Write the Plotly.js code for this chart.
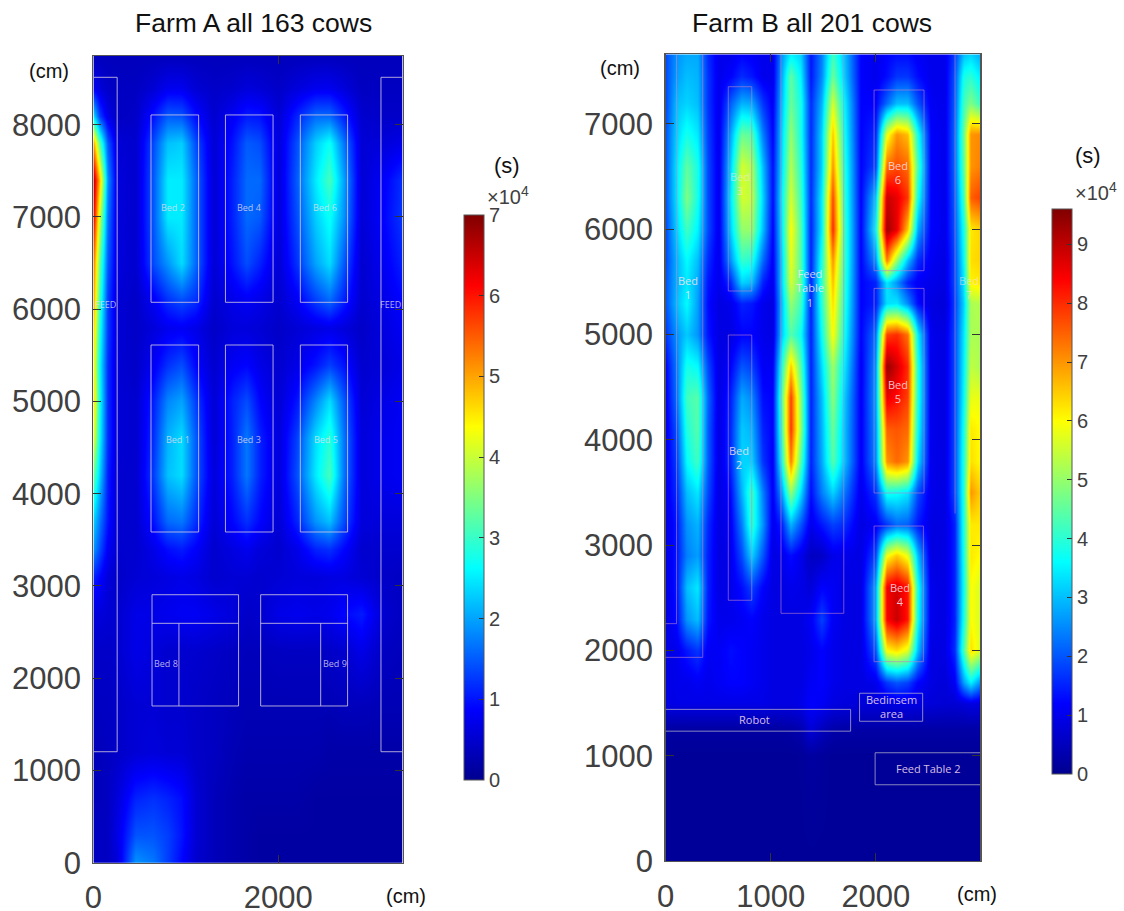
<!DOCTYPE html>
<html>
<head>
<meta charset="utf-8">
<script src="https://cdn.plot.ly/plotly-3.0.1.min.js"></script>
<style>body{margin:0;background:#fff}</style>
</head>
<body>
<div id="plotDiv" style="width:1124px;height:911px"></div>
<script>
// time spent, unit 10^4 s
var farmAx = [0,60,150,260,450,650,800,950,1100,1300,1500,1650,1800,2000,2200,2400,2550,2700,2900,3150,3345];
var farmAy = [0,300,700,1200,1700,2300,2700,3100,3400,3700,4200,4600,5000,5400,5800,6100,6500,7000,7400,7800,8100,8400,8745];
var farmAz = [
[.4,.4,.4,.6,1.9,1.7,1.3,.9,.5,.35,.25,.2,.15,.15,.15,.15,.15,.15,.15,.15,.15],
[.4,.4,.4,.7,1.45,1.45,1.3,1,.55,.35,.25,.2,.15,.15,.15,.15,.15,.15,.15,.15,.15],
[.35,.35,.4,.6,1.1,1.2,1.1,.95,.55,.35,.25,.2,.2,.2,.2,.15,.15,.15,.15,.15,.15],
[.35,.35,.4,.45,.55,.6,.55,.55,.45,.4,.3,.25,.25,.25,.25,.25,.2,.2,.2,.2,.2],
[.4,.4,.4,.45,.55,.55,.5,.5,.45,.4,.35,.3,.3,.3,.3,.3,.3,.35,.35,.3,.3],
[.45,.45,.45,.5,.7,.6,.5,.5,.5,.45,.4,.35,.35,.4,.4,.4,.45,.5,.7,.4,.35],
[.6,.6,.55,.5,.7,.7,.75,.8,.8,.7,.6,.45,.5,.7,.75,.7,.75,.9,1.05,.5,.4],
[1.1,.9,.6,.45,.55,.6,.65,.7,.65,.5,.55,.55,.5,.55,.6,.6,.65,.65,.55,.45,.4],
[1.9,1.4,.8,.5,.5,.7,.95,1.05,.85,.5,.65,.75,.6,.5,.7,1.1,1.2,.9,.5,.5,.5],
[2.3,1.7,1,.5,.5,1,1.6,1.7,1.2,.55,.9,1.2,.9,.55,1.1,1.9,2.2,1.4,.6,.6,.6],
[3.3,2.3,1.1,.5,.5,1.3,2.2,2.4,1.5,.6,1.1,1.7,1.1,.6,1.4,2.5,3.1,1.7,.6,.75,.8],
[4.2,2.6,1.2,.55,.5,1.2,2.1,2.4,1.5,.55,1.1,1.7,1.1,.6,1.3,2.4,2.9,1.7,.6,.75,.8],
[4.6,2.7,1.2,.55,.5,1.1,1.8,2,1.3,.55,1.1,1.4,.9,.55,1,1.8,2.4,1.5,.55,.7,.8],
[4.4,2.6,1.2,.55,.45,.8,1.2,1.4,.9,.5,.8,.9,.7,.5,.7,1,1.3,1,.5,.6,.7],
[4.7,2.8,1.3,.55,.45,.6,.75,.8,.7,.45,.6,.6,.55,.45,.55,.65,.7,.6,.45,.65,.8],
[5,3,1.3,.55,.45,.8,1.2,1.4,1.2,.5,.7,.8,.7,.5,.8,1.3,1.6,1.1,.5,.7,.9],
[5.3,3.3,1.5,.6,.5,1.4,1.9,2.4,1.6,.55,1,1.4,1.1,.55,1.2,2,2.4,1.5,.5,.8,1.1],
[6.2,4,1.7,.6,.5,1.5,2.5,2.5,1.6,.55,1.1,1.6,1.5,.6,1.4,2.3,2.7,1.9,.55,.9,1.25],
[6.6,4.8,1.9,.6,.5,1.5,2.5,2.5,1.6,.55,1.1,1.6,1.6,.6,1.5,2.5,3.1,2,.55,.85,1.2],
[5,3.2,1.5,.55,.5,1.4,2.2,2.3,1.4,.55,1,1.5,1.4,.6,1.4,2.3,2.7,1.7,.55,.6,.7],
[2.4,1.3,.7,.4,.45,1,1.5,1.45,.95,.5,.8,1.05,1,.55,1.1,1.6,1.6,1.1,.5,.45,.45],
[.8,.6,.45,.4,.4,.55,.75,.75,.55,.45,.5,.6,.55,.45,.6,.75,.75,.6,.4,.4,.4],
[.35,.35,.35,.35,.35,.35,.35,.35,.35,.35,.35,.35,.35,.35,.35,.35,.35,.35,.35,.35,.35]
];

var farmBx = [0,100,200,300,400,500,620,720,820,920,1020,1100,1190,1280,1380,1480,1590,1700,1850,2000,2100,2200,2300,2400,2520,2650,2750,2830,2900,2993];
var farmBy = [0,1000,1250,1500,1700,2000,2300,2600,2900,3200,3500,3800,4100,4400,4700,5000,5300,5500,5700,6000,6300,6600,6900,7200,7450,7661];
var farmBz = [
[.1,.1,.1,.1,.1,.1,.1,.1,.1,.1,.1,.1,.1,.1,.1,.1,.1,.1,.1,.1,.1,.1,.1,.1,.1,.1,.1,.1,.1,.1],
[.1,.1,.1,.1,.1,.1,.1,.1,.1,.1,.1,.1,.1,.12,.2,.15,.1,.1,.1,.1,.1,.1,.1,.1,.1,.1,.1,.1,.1,.1],
[.2,.2,.2,.2,.2,.2,.2,.2,.2,.2,.2,.2,.25,.35,.8,.5,.3,.25,.25,.25,.25,.25,.25,.25,.25,.25,.25,.25,.25,.25],
[.9,.95,.95,.95,.95,.95,.95,.95,.95,.95,.9,.9,.9,.95,1.2,1.1,.9,.85,.8,.8,.85,.9,.9,.85,.8,.75,.75,.8,.9,.8],
[.9,1,1,1.1,1,1.1,1.2,1.2,1.1,1,.9,.9,.9,.9,1.1,1.2,1,.9,.9,1,1.7,2,1.8,1.2,.9,.8,1.1,2.7,3.5,2.5],
[.9,1,1.4,1.7,1.1,1.1,1.3,1.2,1.1,1,.9,.9,.9,.9,1,1.2,1,.9,.9,2,6,6.3,5.7,3,.9,.9,1.6,4.3,6.3,5.6],
[.9,1.3,2.6,3,1.4,1,1,1.1,1.2,1,.9,.9,.9,.9,1.1,1.8,1.1,.9,.9,2.8,8.4,8.9,8.2,3.7,1,.9,1.5,3.8,6,5.6],
[.9,1.4,3,3.4,1.5,.9,1,1.3,1.8,1.2,.9,.9,1,.95,.8,1.2,1.1,.9,.9,2.8,8.5,8.8,8.2,3.8,1,.9,1.5,3.7,6,5.6],
[.9,1.4,2.4,2.7,1.5,.9,1,1.9,3.2,2,.9,1,1.3,1,.55,.6,1,1,.9,1.9,5.9,6.5,5.8,3,.9,.9,1.5,3.8,6.2,6],
[.9,1.4,2.6,2.9,1.6,.9,1.1,2.4,4.1,2.6,1,1.5,2.9,2,1,1.4,1.8,1.6,.9,1.1,1.7,2.2,2.1,1.4,.9,.9,1.5,3.9,6.2,6.2],
[1,1.6,3,3.4,1.9,.9,1.3,2.9,4.2,2.4,1.1,2.7,5,3.3,1.3,2.4,3.2,2.3,1,1.7,3.8,3.7,3.4,1.9,1,.9,1.9,3.9,7,6.4],
[1,1.8,3.6,4.2,2.1,.9,1.6,3.2,3.2,1.7,1.1,3.8,7.2,4.4,1.5,2.8,4.4,3,1.1,2.5,7,7.4,7,3.3,1,.9,1.9,3.9,6.3,6],
[1,2,3.9,4.4,2.1,.9,1.6,3.1,2.9,1.5,1.2,4.2,7.9,5,1.5,2.9,4.6,3,1.1,2.6,7.5,7.6,7.4,3.7,1,.9,1.9,3.8,6.2,6],
[1.1,2.3,4.2,4.4,2.2,.9,1.5,2.8,2.5,1.3,1.2,4.4,7.8,4.9,1.5,3,4.9,3.1,1.1,2.7,8.6,8.3,7.8,3.9,1,.9,1.9,3.6,5.8,5.8],
[1.2,2.4,3.8,3.6,1.9,.9,1.2,2,1.8,1.1,1.1,3.9,6.5,4.4,1.5,3.3,5.1,3.4,1.1,2.6,9.4,8.8,8,3.9,1,.9,1.9,3.5,5.4,5.2],
[1.7,2.6,3.1,2.6,1.4,.9,.9,1.2,1.2,1,.9,3.1,4.4,3.7,1.5,3.7,6,3.7,1.2,2.3,7.8,8,7.3,3.5,1,.9,1.9,3.4,5.2,5.2],
[2,3,3.6,2.7,1.3,.9,1,1.5,1.4,1,.9,3,5,4.2,1.5,4,6.3,3.9,1.2,1.5,3.3,3.4,2.5,1.3,.9,.8,1.8,3.2,5.2,5.3],
[2,2.9,3.4,2.8,1.4,1,1.6,3.2,3,1.5,1,3.2,5.6,4.5,1.5,4.1,6.6,4,1.2,1.5,3.4,2.6,1.5,1.1,1,.9,1.9,3.4,6.1,6.2],
[1.9,2.9,3.6,3,1.6,1,2.6,4.1,3.9,2.2,1.1,3.2,5.8,4.4,1.5,3.9,7,4.1,1.2,2.6,7.2,5,3,1.6,1.1,.9,1.9,3.6,6.3,6.4],
[1.9,3.2,4.2,3.5,1.9,1,3.2,5,5,3,1.2,3.4,6,4.4,1.5,3.5,8,4.1,1.2,3.6,9.3,8.6,6.5,2.8,1.2,1,2,3.8,6.2,6.4],
[2,3.4,4.8,3.8,1.9,1,3.4,5.6,5.4,3.2,1.3,3.5,5.6,4.2,1.6,3.5,7.7,4,1.2,3.1,8.9,8.6,7.9,3.8,1.2,1,2.1,4.2,7.5,7.8],
[2,3.4,4.5,3.8,1.9,1,3.2,5.6,5.2,3,1.3,3.3,5.3,4,1.6,3.2,7,3.9,1.2,1.9,7.4,7.7,7.4,4.3,1.2,1,2.2,4.5,7,7.2],
[2,3.2,3.8,3.4,1.8,1,2.8,4.6,4.4,2.4,1.2,3.2,5,3.8,1.6,3.2,6.5,3.7,1.2,1.6,5.8,7,6.6,3.8,1.2,1,2.2,4.6,7,7.1],
[1.9,3,3.2,3,1.7,1,2.1,2.9,2.8,1.7,1.1,3,4.6,3.8,1.6,2.9,5.6,3.5,1.2,1.2,2.2,3,3,2,1.1,1,2.1,4.2,4.8,4.1],
[1.9,2.7,3,2.9,1.7,1,1.2,1.6,1.4,1,1,2.8,4.5,3.5,1.4,2.5,4.6,3.1,1.2,1,1.3,1.7,1.7,1.3,1,1,2,3.8,4,3.4],
[1.9,2.6,2.8,2.8,1.6,1,1,1.2,1.1,1,1,2.6,3.5,3.2,1.4,2.4,4.2,3,1.2,1,1.2,1.3,1.3,1.1,1,1,1.8,3,3.2,2.8]
];

var jet = [[0,'rgb(0,0,143)'],[0.125,'rgb(0,0,255)'],[0.375,'rgb(0,255,255)'],[0.625,'rgb(255,255,0)'],[0.875,'rgb(255,0,0)'],[1,'rgb(128,0,0)']];
var W = 1124, H = 911;
var ink = '#404040';
var face = 'Liberation Sans, Arial, sans-serif';

function px(v){ return v / W; }
function py(v){ return 1 - v / H; }

function bar(left, top, bottom, dtick){
  return {x:px(left), xanchor:'left', xpad:0, y:py(bottom), yanchor:'bottom', ypad:0,
    len:(bottom-top)/H, lenmode:'fraction', thickness:20, thicknessmode:'pixels',
    outlinecolor:'#555', outlinewidth:1, ticks:'inside', ticklen:5, tickcolor:'#333',
    tick0:0, dtick:dtick, tickfont:{family:face,size:20,color:ink}};
}

var data = [
  {type:'heatmap', x:farmAx, y:farmAy, z:farmAz, zmin:0, zmax:7, zsmooth:'best', colorscale:jet,
   colorbar:bar(464,215,780,1), xaxis:'x', yaxis:'y'},
  {type:'heatmap', x:farmBx, y:farmBy, z:farmBz, zmin:0, zmax:9.6, zsmooth:'best', colorscale:jet,
   colorbar:bar(1052,209,774,1), xaxis:'x2', yaxis:'y2'}
];

function axis(left, right, top, bottom, range, dtick, anchor, isX){
  var a = {range:range, dtick:dtick, tick0:0, anchor:anchor, showgrid:false, zeroline:false,
    showline:true, linecolor:'#555', linewidth:1.3, mirror:'allticks', ticks:'inside',
    ticklen:8, tickcolor:'#333', tickfont:{family:face,size:31,color:ink}, layer:'above traces'};
  if(isX){ a.domain = [px(left), px(right)]; a.ticklabelstandoff = 7; }
  else { a.domain = [py(bottom), py(top)]; a.ticklabelstandoff = 5; }
  return a;
}

// plan of the barn drawn on top of each map
function rect(n, x0, y0, x1, y1, color){
  return {type:'rect', xref:'x'+n, yref:'y'+n, x0:x0, y0:y0, x1:x1, y1:y1, line:{color:color,width:1}, layer:'above'};
}
function path(n, d, color){
  return {type:'path', xref:'x'+n, yref:'y'+n, path:d, line:{color:color,width:1}, layer:'above'};
}
var lineA = 'rgba(205,195,225,0.85)', lineB = 'rgba(190,130,200,0.6)', lineC = 'rgba(170,165,200,0.8)';
var shapes = [
  path('', 'M0,8514 L257,8514 L257,1203 L0,1203', lineA),
  path('', 'M3345,8514 L3110,8514 L3110,1203 L3345,1203', lineA),
  rect('',623,6075,1138,8106,lineA), rect('',1428,6075,1943,8106,lineA), rect('',2238,6075,2749,8106,lineA),
  rect('',623,3585,1138,5612,lineA), rect('',1428,3585,1943,5612,lineA), rect('',2238,3585,2749,5612,lineA),
  rect('',634,1699,1570,2905,lineA), path('', 'M634,2595 L1570,2595 M925,2595 L925,1699', lineA),
  rect('',1809,1699,2749,2905,lineA), path('', 'M1809,2595 L2749,2595 M2458,2595 L2458,1699', lineA),
  path('2', 'M105,7661 L105,2254 L0,2254', lineB),
  path('2', 'M354,7661 L354,1934 L0,1934', lineB),
  path('2', 'M2753,7661 L2753,3300', lineB),
  rect('2',597,5413,820,7353,lineB), rect('2',597,2476,820,4995,lineB),
  path('2', 'M1098,7661 L1098,2352 L1695,2352 L1695,7661', lineB),
  rect('2',1983,5606,2458,7322,lineB), rect('2',1983,3495,2458,5438,lineB), rect('2',1983,1893,2452,3181,lineB),
  path('2', 'M0,1440 L1760,1440 L1760,1233 L0,1233', lineC),
  rect('2',1845,1327,2445,1593,lineC),
  path('2', 'M2993,1028 L1993,1028 L1993,724 L2993,724', lineC)
];

function note(text, x, y, size, color){
  return {text:text, xref:'paper', yref:'paper', x:px(x), y:py(y), xanchor:'center', yanchor:'middle',
    showarrow:false, font:{family:face,size:size,color:color||'#111'}};
}
function label(n, text, x, y, size, color){
  return {text:text, xref:'x'+n, yref:'y'+n, x:x, y:y, xanchor:'center', yanchor:'middle', showarrow:false,
    font:{family:'Open Sans, sans-serif',size:size,color:color}};
}
var softA = 'rgba(225,220,240,0.8)', softB = 'rgba(255,225,240,0.85)';
var annotations = [
  note('Farm A all 163 cows', 253, 23, 26.5),
  note('Farm B all 201 cows', 812, 23, 26.5),
  note('(cm)', 49, 71, 20), note('(cm)', 406, 896, 20),
  note('(cm)', 620, 68, 20), note('(cm)', 977, 894, 20),
  note('(s)', 507, 165, 22), note('(s)', 1088, 155, 22),
  note('×10<sup>4</sup>', 508, 195, 20, ink), note('×10<sup>4</sup>', 1096, 191, 20, ink),
  label('','Bed 2',859,7105,9,softA), label('','Bed 4',1683,7105,9,softA), label('','Bed 6',2503,7105,9,softA),
  label('','Bed 1',911,4590,9,softA), label('','Bed 3',1685,4590,9,softA), label('','Bed 5',2513,4590,9,softA),
  label('','Bed 8',780,2161,9,softA), label('','Bed 9',2608,2161,9,softA),
  label('','FEED',127,6055,9,softA), label('','FEED',3216,6055,9,softA),
  label('2','Bed<br>1',213,5443,11,softB), label('2','Bed<br>3',711,6435,11,'rgba(255,225,240,0.55)'),
  label('2','Bed<br>2',701,3830,11,softB), label('2','Feed<br>Table<br>1',1377,5443,11,softB),
  label('2','Bed<br>6',2206,6535,11,softB), label('2','Bed<br>5',2206,4456,11,softB),
  label('2','Bed<br>4',2232,2529,11,softB), label('2','Bed<br>7',2881,5443,11,'rgba(255,225,240,0.55)'),
  label('2','Robot',849,1348,11,softB), label('2','Bedinsem<br>area',2144,1470,11,softB),
  label('2','Feed Table 2',2498,874,11,softB)
];

var layout = {
  width:W, height:H, margin:{l:0,r:0,t:0,b:0}, paper_bgcolor:'#fff', plot_bgcolor:'#fff',
  showlegend:false, font:{family:face},
  xaxis:axis(93.4,402.7,56,862.7,[0,3345],2000,'y',true),
  yaxis:axis(93.4,402.7,56,862.7,[0,8745],1000,'x',false),
  xaxis2:axis(665.5,980.3,54.3,861,[0,2993],1000,'y2',true),
  yaxis2:axis(665.5,980.3,54.3,861,[0,7661],1000,'x2',false),
  shapes:shapes, annotations:annotations
};

Plotly.newPlot('plotDiv', data, layout, {displayModeBar:false, staticPlot:true});
</script>
</body>
</html>
